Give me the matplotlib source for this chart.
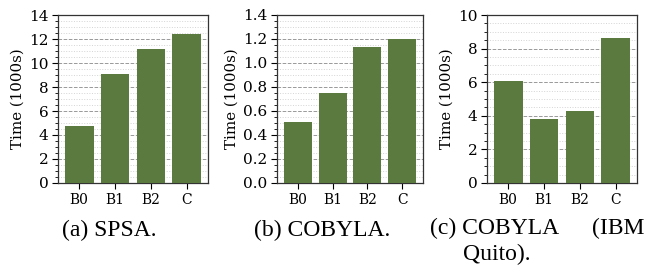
import matplotlib.pyplot as plt
from matplotlib.ticker import MultipleLocator

labels = ["B0", "B1", "B2", "C"]
spsa = [4.75, 9.08, 11.17, 12.42]
cobyla = [0.507, 0.749, 1.134, 1.20]
cobyla_ibm = [6.07, 3.81, 4.29, 8.63]

bar_color = "#5b7a3f"

fig = plt.figure(figsize=(6.47, 2.69), dpi=100)
W, H = 647.0, 269.0


def panel(left, right, vals, ymax, major, minor, fmt):
    ax = fig.add_axes([left / W, (H - 183) / H, (right - left) / W, 168 / H])
    ax.bar(labels, vals, width=0.8, color=bar_color, zorder=3)
    ax.set_ylim(0, ymax)
    ax.yaxis.set_major_locator(MultipleLocator(major))
    ax.yaxis.set_minor_locator(MultipleLocator(minor))
    ax.yaxis.set_major_formatter(fmt)
    ax.set_axisbelow(True)
    ax.grid(axis="y", which="major", color="#999999", linestyle="--", linewidth=0.7)
    ax.grid(axis="y", which="minor", color="#d4d4d4", linestyle=":", linewidth=0.7)
    ax.tick_params(axis="both", which="major", length=4, width=0.8, labelsize=11, pad=3)
    ax.tick_params(axis="y", which="minor", length=2, width=0.6)
    ax.tick_params(axis="x", labelsize=10)
    for s in ax.spines.values():
        s.set_color("#333333")
        s.set_linewidth(0.9)
    ax.set_ylabel("Time (1000s)", fontsize=10.8, labelpad=3)
    for t in ax.get_xticklabels() + ax.get_yticklabels():
        t.set_family("DejaVu Serif")
    ax.yaxis.label.set_family("DejaVu Serif")
    return ax


panel(58, 208, spsa, 14, 2, 0.5, "{x:.0f}")
panel(277, 423, cobyla, 1.4, 0.2, 0.05, "{x:.1f}")
panel(487, 637, cobyla_ibm, 10, 2, 0.5, "{x:.0f}")

cap = dict(family="Liberation Serif", fontsize=17, va="center")
fig.text(109 / W, 1 - 230 / H, "(a) SPSA.", ha="center", **cap)
fig.text(322 / W, 1 - 230 / H, "(b) COBYLA.", ha="center", **cap)
fig.text(430 / W, 1 - 228 / H, "(c) COBYLA", ha="left", **cap)
fig.text(644 / W, 1 - 228 / H, "(IBM", ha="right", **cap)
fig.text(463 / W, 1 - 254 / H, "Quito).", ha="left", **cap)

fig.savefig("out.png", dpi=100)
